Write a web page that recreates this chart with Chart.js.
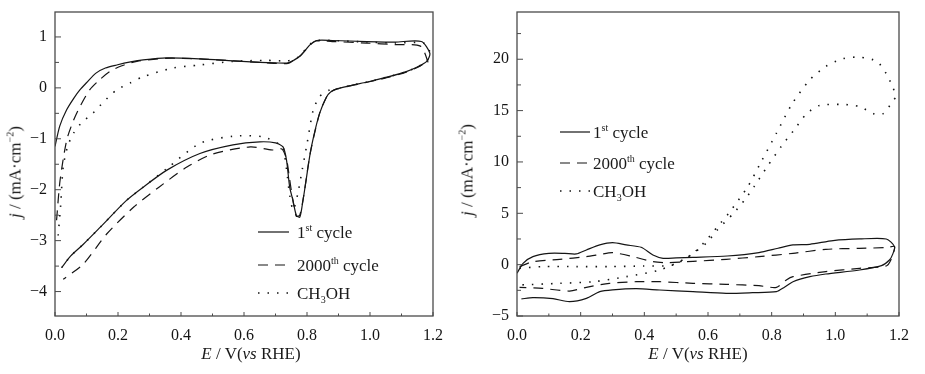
<!DOCTYPE html>
<html>
<head>
<meta charset="utf-8">
<script src="https://cdn.jsdelivr.net/npm/chart.js@4.4.0/dist/chart.umd.min.js"></script>
<style>
html, body { margin: 0; padding: 0; background: #fff; }
#wrap { position: relative; width: 925px; height: 374px; overflow: hidden;
        font-family: "Liberation Serif", "Times New Roman", serif; color: #1a1a1a; }
.panel { position: absolute; top: 0; height: 374px; }
.lbl { position: absolute; white-space: nowrap; font-size: 17px; line-height: 1; }
.lbl sup { font-size: 10px; vertical-align: 0; position: relative; top: -7px; }
.lbl sub { font-size: 10px; vertical-align: 0; position: relative; top: 4px; }
.center { transform: translate(-50%, -50%); }
.leg { transform: translateY(-50%); }
.ytitle { transform: translate(-50%, -50%) rotate(-90deg); }
</style>
</head>
<body>
<div id="wrap">
  <div class="panel" style="left:0;width:460px"><canvas id="chart-left" width="460" height="374"></canvas></div>
  <div class="panel" style="left:460px;width:465px"><canvas id="chart-right" width="465" height="374"></canvas></div>

  <div class="lbl ytitle" style="left:15px;top:172px"><i>j</i> / (mA·cm<sup>−2</sup>)</div>
  <div class="lbl center" style="left:251px;top:353px"><i>E</i> / V(<i>vs</i> RHE)</div>
  <div class="lbl leg" style="left:297px;top:232px">1<sup>st</sup> cycle</div>
  <div class="lbl leg" style="left:297px;top:265px">2000<sup>th</sup> cycle</div>
  <div class="lbl leg" style="left:297px;top:293px">CH<sub>3</sub>OH</div>

  <div class="lbl ytitle" style="left:467px;top:170px"><i>j</i> / (mA·cm<sup>−2</sup>)</div>
  <div class="lbl center" style="left:698px;top:353px"><i>E</i> / V(<i>vs</i> RHE)</div>
  <div class="lbl leg" style="left:593px;top:132px">1<sup>st</sup> cycle</div>
  <div class="lbl leg" style="left:593px;top:163px">2000<sup>th</sup> cycle</div>
  <div class="lbl leg" style="left:593px;top:191px">CH<sub>3</sub>OH</div>
</div>

<script>
// ---- tick values ----
const xTicks = [0, 0.2, 0.4, 0.6, 0.8, 1.0, 1.2];
const xMinorTicks = [0.1, 0.3, 0.5, 0.7, 0.9, 1.1];
const leftYTicks = [-4, -3, -2, -1, 0, 1];
const leftYMinor = [-3.5, -2.5, -1.5, -0.5, 0.5];
const rightYTicks = [-5, 0, 5, 10, 15, 20];
const rightYMinor = [-2.5, 2.5, 7.5, 12.5, 17.5, 22.5];

// ---- left panel: acid electrolyte CVs ----
const leftCycle1E = [0.0, 0.015, 0.037, 0.06, 0.079, 0.10, 0.13, 0.16, 0.196, 0.24, 0.28, 0.354, 0.46, 0.565, 0.65, 0.70, 0.74, 0.76, 0.777, 0.795, 0.81, 0.83, 0.88, 0.99, 1.08, 1.163, 1.19, 1.18, 1.15, 1.115, 1.06, 0.998, 0.935, 0.895, 0.875, 0.862, 0.84, 0.825, 0.81, 0.795, 0.785, 0.777, 0.766, 0.755, 0.745, 0.735, 0.724, 0.70, 0.65, 0.565, 0.46, 0.354, 0.28, 0.227, 0.143, 0.09, 0.05, 0.021];
const leftCycle1J = [-1.15, -0.75, -0.43, -0.2, -0.04, 0.1, 0.29, 0.39, 0.45, 0.51, 0.55, 0.59, 0.57, 0.53, 0.5, 0.49, 0.49, 0.55, 0.62, 0.74, 0.85, 0.93, 0.93, 0.91, 0.9, 0.91, 0.68, 0.52, 0.41, 0.32, 0.22, 0.125, 0.04, -0.02, -0.08, -0.18, -0.5, -0.85, -1.29, -1.9, -2.3, -2.54, -2.5, -2.2, -1.95, -1.42, -1.16, -1.08, -1.06, -1.12, -1.29, -1.62, -1.95, -2.21, -2.74, -3.07, -3.3, -3.53];

const leftCycle2000E = [0.005, 0.016, 0.037, 0.058, 0.079, 0.11, 0.14, 0.174, 0.21, 0.26, 0.35, 0.46, 0.565, 0.65, 0.70, 0.74, 0.76, 0.777, 0.81, 0.83, 0.88, 0.99, 1.08, 1.16, 1.185, 1.18, 1.15, 1.115, 1.06, 0.998, 0.935, 0.895, 0.875, 0.862, 0.84, 0.81, 0.79, 0.777, 0.766, 0.755, 0.745, 0.735, 0.72, 0.69, 0.62, 0.50, 0.42, 0.33, 0.25, 0.164, 0.09, 0.026];
const leftCycle2000J = [-2.6, -1.82, -1.03, -0.65, -0.37, -0.04, 0.15, 0.32, 0.43, 0.52, 0.58, 0.57, 0.53, 0.5, 0.48, 0.48, 0.55, 0.62, 0.84, 0.92, 0.91, 0.88, 0.85, 0.82, 0.49, 0.5, 0.4, 0.31, 0.21, 0.12, 0.04, -0.02, -0.08, -0.18, -0.5, -1.29, -2.1, -2.5, -2.52, -2.2, -1.8, -1.4, -1.2, -1.22, -1.16, -1.3, -1.55, -1.95, -2.34, -2.87, -3.46, -3.76];

const leftMethanolE = [0.01, 0.018, 0.026, 0.04, 0.058, 0.085, 0.12, 0.155, 0.196, 0.24, 0.28, 0.375, 0.46, 0.565, 0.67, 0.735, 0.76, 0.777, 0.81, 0.83, 0.88, 0.99, 1.08, 1.17, 1.19, 1.18, 1.15, 1.115, 1.06, 0.998, 0.935, 0.895, 0.872, 0.855, 0.84, 0.82, 0.80, 0.785, 0.77, 0.756, 0.745, 0.735, 0.724, 0.71, 0.66, 0.565, 0.46, 0.354, 0.28, 0.227, 0.143, 0.09, 0.05, 0.021];
const leftMethanolJ = [-2.9, -2.3, -1.55, -1.15, -0.9, -0.68, -0.5, -0.27, -0.04, 0.1, 0.22, 0.39, 0.45, 0.52, 0.54, 0.53, 0.56, 0.63, 0.86, 0.93, 0.93, 0.9, 0.88, 0.88, 0.7, 0.52, 0.41, 0.32, 0.22, 0.125, 0.04, -0.02, -0.04, -0.1, -0.17, -0.43, -1.1, -1.6, -2.1, -2.4, -2.1, -1.6, -1.16, -1.1, -0.96, -0.95, -1.09, -1.59, -1.95, -2.21, -2.74, -3.07, -3.3, -3.53];

// ---- right panel ----
const rightCycle1E = [0.0, 0.019, 0.05, 0.10, 0.15, 0.186, 0.218, 0.26, 0.30, 0.343, 0.39, 0.427, 0.459, 0.50, 0.553, 0.66, 0.76, 0.82, 0.867, 0.92, 0.993, 1.076, 1.16, 1.186, 1.18, 1.17, 1.145, 1.076, 0.97, 0.92, 0.867, 0.84, 0.815, 0.74, 0.657, 0.553, 0.448, 0.375, 0.30, 0.26, 0.218, 0.165, 0.113, 0.05, 0.014];
const rightCycle1J = [-0.84, 0.13, 0.78, 1.1, 1.1, 1.04, 1.43, 1.92, 2.14, 1.92, 1.69, 0.94, 0.62, 0.66, 0.71, 0.84, 1.17, 1.6, 1.92, 1.98, 2.34, 2.5, 2.5, 1.75, 1.0, 0.45, -0.1, -0.52, -0.91, -1.17, -1.66, -2.2, -2.63, -2.73, -2.79, -2.63, -2.47, -2.34, -2.45, -2.63, -3.28, -3.6, -3.31, -3.21, -3.34];

const rightCycle2000E = [0.008, 0.05, 0.134, 0.218, 0.26, 0.30, 0.364, 0.427, 0.469, 0.553, 0.657, 0.76, 0.867, 0.97, 1.076, 1.16, 1.186, 1.175, 1.16, 1.076, 0.97, 0.867, 0.846, 0.815, 0.76, 0.657, 0.553, 0.448, 0.375, 0.29, 0.218, 0.165, 0.08, 0.008];
const rightCycle2000J = [-0.19, 0.29, 0.52, 0.78, 0.98, 1.17, 0.78, 0.29, 0.19, 0.32, 0.52, 0.78, 1.1, 1.49, 1.59, 1.66, 1.75, 0.5, -0.13, -0.36, -0.68, -1.17, -1.49, -2.21, -2.05, -1.92, -1.82, -1.66, -1.66, -1.82, -2.21, -2.57, -2.31, -2.21];

const rightMethanolE = [0.008, 0.08, 0.186, 0.29, 0.396, 0.49, 0.553, 0.595, 0.63, 0.665, 0.725, 0.765, 0.815, 0.865, 0.92, 0.97, 1.024, 1.076, 1.13, 1.16, 1.18, 1.19, 1.18, 1.15, 1.12, 1.076, 1.024, 0.95, 0.91, 0.87, 0.83, 0.785, 0.745, 0.715, 0.68, 0.63, 0.595, 0.53, 0.448, 0.343, 0.24, 0.134, 0.008];
const rightMethanolJ = [-0.36, -0.19, -0.19, -0.19, -0.13, -0.03, 1.1, 2.4, 3.7, 5.0, 7.6, 9.9, 12.8, 15.7, 18.0, 19.3, 20.06, 20.2, 19.8, 18.6, 17.3, 16.4, 15.9, 14.7, 14.7, 15.4, 15.6, 15.5, 14.7, 13.1, 11.5, 9.5, 7.6, 6.3, 5.0, 3.4, 2.1, 0.62, -0.52, -1.17, -1.66, -1.82, -1.98];

const INK = "#151515";
const AXIS = "#4a4a4a";
const FONT = "'Liberation Serif', 'Times New Roman', serif";

function pts(xs, ys) {
    return xs.map((x, i) => ({ x: x, y: ys[i] }));
}

function fmtNum(v, digits) {
    const s = Math.abs(v).toFixed(digits);
    return v < 0 ? "\u2212" + s : s;
}

// frame around the plot + inward tick marks
const frameTicks = {
    id: "frameTicks",
    afterDraw(chart, args, o) {
        const { ctx, chartArea: a, scales } = chart;
        ctx.save();
        ctx.strokeStyle = AXIS;
        ctx.lineWidth = 1.3;
        ctx.strokeRect(a.left, a.top, a.right - a.left, a.bottom - a.top);
        ctx.lineWidth = 1;
        ctx.beginPath();
        o.xMajor.forEach(v => {
            const p = scales.x.getPixelForValue(v);
            ctx.moveTo(p, a.bottom); ctx.lineTo(p, a.bottom - 4);
        });
        o.xMinor.forEach(v => {
            const p = scales.x.getPixelForValue(v);
            ctx.moveTo(p, a.bottom); ctx.lineTo(p, a.bottom - 2.5);
        });
        o.yMajor.forEach(v => {
            const p = scales.y.getPixelForValue(v);
            ctx.moveTo(a.left, p); ctx.lineTo(a.left + 6, p);
        });
        o.yMinor.forEach(v => {
            const p = scales.y.getPixelForValue(v);
            ctx.moveTo(a.left, p); ctx.lineTo(a.left + 4, p);
        });
        ctx.stroke();
        ctx.restore();
    }
};

// legend line samples (text is html)
const legendSamples = {
    id: "legendSamples",
    afterDraw(chart, args, o) {
        const ctx = chart.ctx;
        ctx.save();
        chart.data.datasets.forEach((ds, i) => {
            ctx.strokeStyle = ds.borderColor;
            ctx.lineWidth = ds.borderWidth;
            ctx.setLineDash(ds.borderDash || []);
            ctx.beginPath();
            ctx.moveTo(o.x1, o.ys[i]);
            ctx.lineTo(o.x2, o.ys[i]);
            ctx.stroke();
        });
        ctx.restore();
    }
};

function makeDatasets(e1, j1, e2, j2, e3, j3) {
    const base = { borderColor: INK, borderWidth: 1.2, pointRadius: 0, showLine: true, tension: 0.25, fill: false };
    return [
        Object.assign({}, base, { label: "1st cycle", data: pts(e1, j1) }),
        Object.assign({}, base, { label: "2000th cycle", data: pts(e2, j2), borderDash: [10, 7] }),
        Object.assign({}, base, { label: "CH3OH", data: pts(e3, j3), borderDash: [1.5, 8], borderWidth: 1.6 })
    ];
}

function makeChart(id, datasets, cfg) {
    return new Chart(document.getElementById(id), {
        type: "scatter",
        data: { datasets: datasets },
        plugins: [frameTicks, legendSamples],
        options: {
            responsive: false,
            animation: false,
            events: [],
            layout: { padding: { top: 12, right: cfg.padRight, left: 0, bottom: 0 } },
            plugins: {
                legend: { display: false },
                tooltip: { enabled: false },
                frameTicks: { xMajor: xTicks, xMinor: xMinorTicks, yMajor: cfg.yTicks, yMinor: cfg.yMinor },
                legendSamples: cfg.legend
            },
            scales: {
                x: {
                    type: "linear",
                    min: 0, max: 1.2,
                    afterBuildTicks: s => { s.ticks = xTicks.map(v => ({ value: v })); },
                    afterFit: s => { s.height = 58; },
                    grid: { display: false },
                    border: { display: false },
                    ticks: { color: INK, padding: 2, maxRotation: 0, font: { family: FONT, size: 16 },
                             callback: v => fmtNum(v, 1) }
                },
                y: {
                    type: "linear",
                    min: cfg.yMin, max: cfg.yMax,
                    afterBuildTicks: s => { s.ticks = cfg.yTicks.map(v => ({ value: v })); },
                    afterFit: s => { s.width = cfg.yWidth; },
                    grid: { display: false },
                    border: { display: false },
                    ticks: { color: INK, padding: 0, font: { family: FONT, size: 16 },
                             callback: v => fmtNum(v, 0) }
                }
            }
        }
    });
}

makeChart("chart-left",
    makeDatasets(leftCycle1E, leftCycle1J, leftCycle2000E, leftCycle2000J, leftMethanolE, leftMethanolJ),
    { yMin: -4.48, yMax: 1.49, yTicks: leftYTicks, yMinor: leftYMinor, yWidth: 55, padRight: 27,
      legend: { x1: 258, x2: 289, ys: [232, 265, 293] } });

makeChart("chart-right",
    makeDatasets(rightCycle1E, rightCycle1J, rightCycle2000E, rightCycle2000J, rightMethanolE, rightMethanolJ),
    { yMin: -5, yMax: 24.6, yTicks: rightYTicks, yMinor: rightYMinor, yWidth: 57, padRight: 26,
      legend: { x1: 100, x2: 130, ys: [132, 163, 191] } });
</script>
</body>
</html>
